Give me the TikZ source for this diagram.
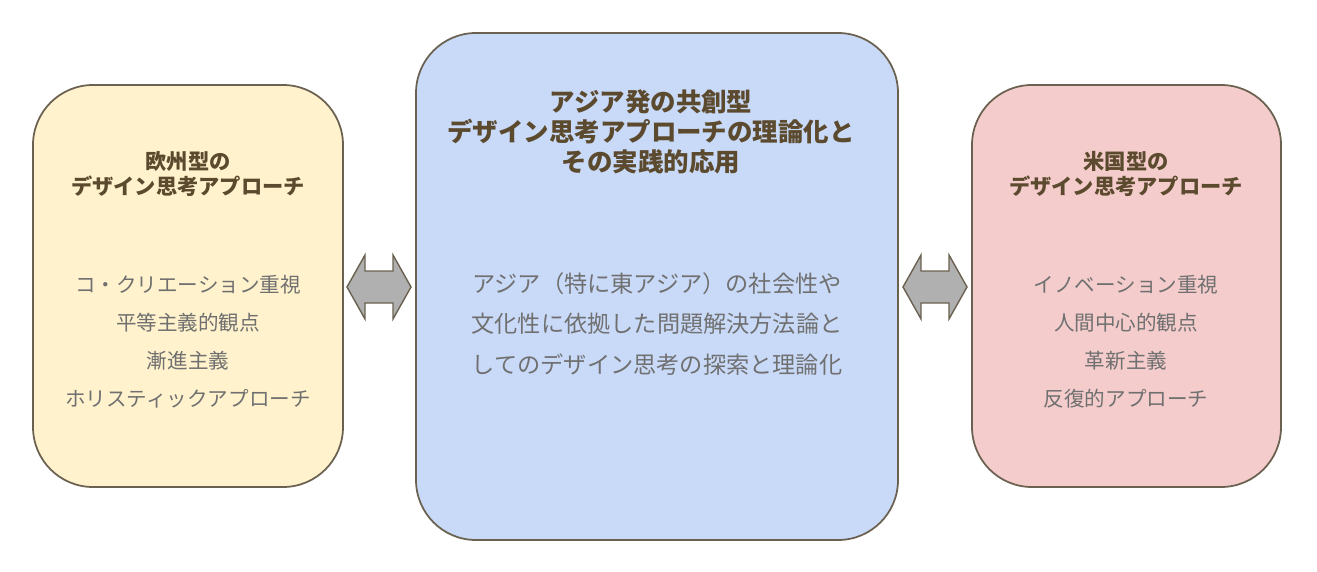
\documentclass[tikz,border=0pt]{standalone}
\usepackage{fontspec}
\setmainfont{Noto Sans CJK JP}
\usetikzlibrary{positioning}
\definecolor{yellowbox}{HTML}{FFF2CC}
\definecolor{bluebox}{HTML}{C9DAF8}
\definecolor{redbox}{HTML}{F4CCCC}
\definecolor{edgecol}{HTML}{6B6150}
\definecolor{titlecol}{HTML}{5C4A2E}
\definecolor{bodycol}{HTML}{707070}
\definecolor{arrowcol}{HTML}{B0B0B0}

\begin{document}
\begin{tikzpicture}[x=0.02cm, y=-0.02cm,
    box/.style={draw=edgecol, line width=1pt, rounded corners=1.2cm},
    heading/.style={font=\fontsize{12.1pt}{14.5pt}\selectfont\bfseries, text=titlecol, align=center},
    body/.style={font=\fontsize{11.7pt}{21.6pt}\selectfont, text=bodycol, align=center},
    bodywide/.style={font=\fontsize{13.2pt}{23pt}\selectfont, text=bodycol, align=center},
    twoway/.style={draw=edgecol, fill=arrowcol, line width=0.8pt}]

\useasboundingbox (0,0) rectangle (1317,571);

% boxes
\draw[box, fill=yellowbox] (33,85) rectangle (343,487);
\draw[box, fill=bluebox] (416,33) rectangle (898,540);
\draw[box, fill=redbox] (972,85) rectangle (1281,487);

% texts
\node[heading] (euhead) at (188,174) {欧州型の\\デザイン思考アプローチ};
\node[body] (eubody) at (188,342) {コ・クリエーション重視\\平等主義的観点\\漸進主義\\ホリスティックアプローチ};
\node[heading, font=\fontsize{14.5pt}{17pt}\selectfont\bfseries] (ashead) at (651,132) {アジア発の共創型\\デザイン思考アプローチの理論化と\\その実践的応用};
\node[bodywide] (asbody) at (657,324) {アジア（特に東アジア）の社会性や\\文化性に依拠した問題解決方法論と\\してのデザイン思考の探索と理論化};
\node[heading] (ushead) at (1126,174) {米国型の\\デザイン思考アプローチ};
\node[body] (usbody) at (1126,342) {イノベーション重視\\人間中心的観点\\革新主義\\反復的アプローチ};

% double arrows
\foreach \xs in {347,903}
  \draw[twoway] (\xs,287) -- (\xs+18,255) -- (\xs+18,271) -- (\xs+46,271) -- (\xs+46,255)
    -- (\xs+64,287) -- (\xs+46,319) -- (\xs+46,303) -- (\xs+18,303) -- (\xs+18,319) -- cycle;
\end{tikzpicture}
\end{document}
